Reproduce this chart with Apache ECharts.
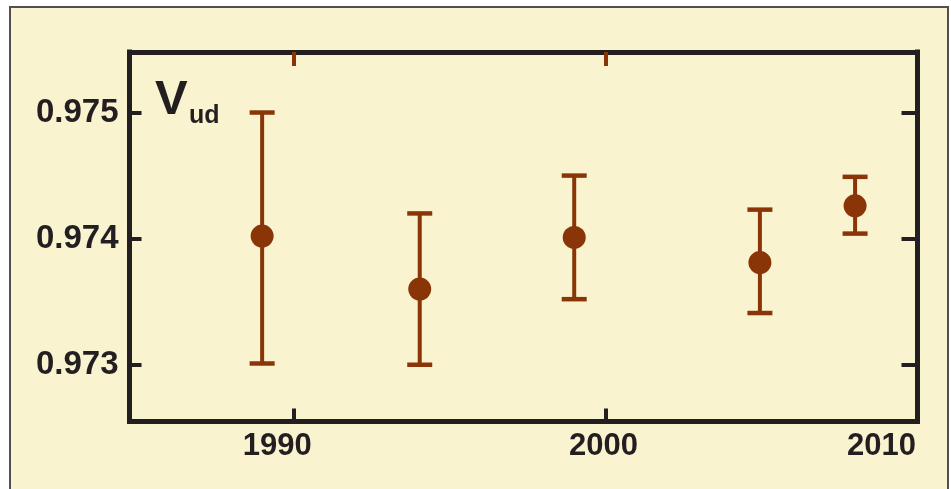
<!DOCTYPE html>
<html>
<head>
<meta charset="utf-8">
<script src="https://cdn.jsdelivr.net/npm/echarts@6/dist/echarts.min.js"></script>
<style>
  html, body { margin: 0; padding: 0; background: #ffffff; overflow: hidden; width: 951px; height: 489px; }
  #panel {
    position: absolute; left: 9px; top: 6px; width: 936px; height: 483px;
    background: #f9f3cf; border: 2px solid #505050; border-bottom: none;
  }
  #chart { position: absolute; left: 0; top: 0; width: 951px; height: 489px; }
</style>
</head>
<body>
<div id="panel"></div>
<div id="chart"></div>
<script>
// Measurement year of each Vud determination
const years = [1989.0, 1994.05, 1999.0, 2004.95, 2008.0];
// Central values
const vud = [0.97402, 0.97360, 0.97401, 0.97381, 0.97426];
// Lower and upper ends of the error bars
const lower = [0.97301, 0.97300, 0.97352, 0.97341, 0.97404];
const upper = [0.97500, 0.97420, 0.97450, 0.97423, 0.97449];
// Tick positions / labels
const yearTicks = [1990, 2000, 2010];
const topYearTicks = [1990, 2000];
const vudTicks = [0.973, 0.974, 0.975];

const INK = '#231f20';
const BROWN = '#8a3508';
const FONT = '"Liberation Sans", Arial, sans-serif';

const xRange = { min: 1984.75, max: 2010 };
const yRange = { min: 0.97255, max: 0.97548 };

// Year labels sit slightly left of their ticks (right padding pushes a centred label left)
const yearLabelStyle = (pad) => ({
  color: INK, fontFamily: FONT, fontWeight: 'bold', fontSize: 31, padding: [0, pad, 0, 0]
});

const chart = echarts.init(document.getElementById('chart'), null, { renderer: 'canvas' });

const frameLine = { show: true, onZero: false, lineStyle: { color: INK, width: 5, cap: 'square' } };

chart.setOption({
  backgroundColor: 'transparent',
  animation: false,
  grid: { left: 129.5, right: 33.5, top: 52, bottom: 67.5, containLabel: false },
  xAxis: [
    {
      type: 'value', position: 'bottom', ...xRange,
      axisLine: frameLine,
      axisTick: { show: true, inside: true, length: 13, customValues: yearTicks,
                  lineStyle: { color: INK, width: 4 } },
      axisLabel: { show: true, customValues: yearTicks, margin: 9,
                   color: INK, fontFamily: FONT, fontWeight: 'bold', fontSize: 31,
                   formatter: v => '{y' + v + '|' + v + '}',
                   rich: { y1990: yearLabelStyle(32), y2000: yearLabelStyle(4), y2010: yearLabelStyle(72) } },
      splitLine: { show: false }
    },
    {
      type: 'value', position: 'top', ...xRange,
      axisLine: frameLine,
      axisTick: { show: true, inside: true, length: 14, customValues: topYearTicks,
                  lineStyle: { color: BROWN, width: 4 } },
      axisLabel: { show: false },
      splitLine: { show: false }
    }
  ],
  yAxis: [
    {
      type: 'value', position: 'left', ...yRange,
      axisLine: frameLine,
      axisTick: { show: true, inside: true, length: 12, customValues: vudTicks,
                  lineStyle: { color: INK, width: 4 } },
      axisLabel: { show: true, customValues: vudTicks, margin: 11,
                   color: INK, fontFamily: FONT, fontWeight: 'bold', fontSize: 33,
                   formatter: v => v.toFixed(3) },
      splitLine: { show: false }
    },
    {
      type: 'value', position: 'right', ...yRange,
      axisLine: frameLine,
      axisTick: { show: true, inside: true, length: 16, customValues: vudTicks,
                  lineStyle: { color: INK, width: 4 } },
      axisLabel: { show: false },
      splitLine: { show: false }
    }
  ],
  graphic: [
    { type: 'text', left: 155, top: 76, z: 10,
      style: { text: 'V', font: 'bold 49px ' + FONT, fill: INK } },
    { type: 'text', left: 189, top: 104, z: 10,
      style: { text: 'ud', font: 'bold 25px ' + FONT, fill: INK } }
  ],
  series: [
    {
      type: 'custom',
      xAxisIndex: 0, yAxisIndex: 0,
      encode: { x: 0, y: [1, 2] },
      data: years.map((y, i) => [y, lower[i], upper[i]]),
      renderItem: function (params, api) {
        const x = api.value(0);
        const lo = api.coord([x, api.value(1)]);
        const hi = api.coord([x, api.value(2)]);
        const half = 12.5;
        const stroke = { stroke: BROWN, lineWidth: 4 };
        const capStroke = { stroke: BROWN, lineWidth: 4.5 };
        return {
          type: 'group',
          children: [
            { type: 'line', shape: { x1: lo[0], y1: lo[1], x2: hi[0], y2: hi[1] }, style: stroke },
            { type: 'line', shape: { x1: hi[0] - half, y1: hi[1], x2: hi[0] + half, y2: hi[1] }, style: capStroke },
            { type: 'line', shape: { x1: lo[0] - half, y1: lo[1], x2: lo[0] + half, y2: lo[1] }, style: capStroke }
          ]
        };
      },
      z: 2
    },
    {
      type: 'scatter',
      xAxisIndex: 0, yAxisIndex: 0,
      symbol: 'circle', symbolSize: 23,
      itemStyle: { color: BROWN, opacity: 1 },
      data: years.map((y, i) => [y, vud[i]]),
      z: 3
    }
  ]
});
</script>
</body>
</html>
